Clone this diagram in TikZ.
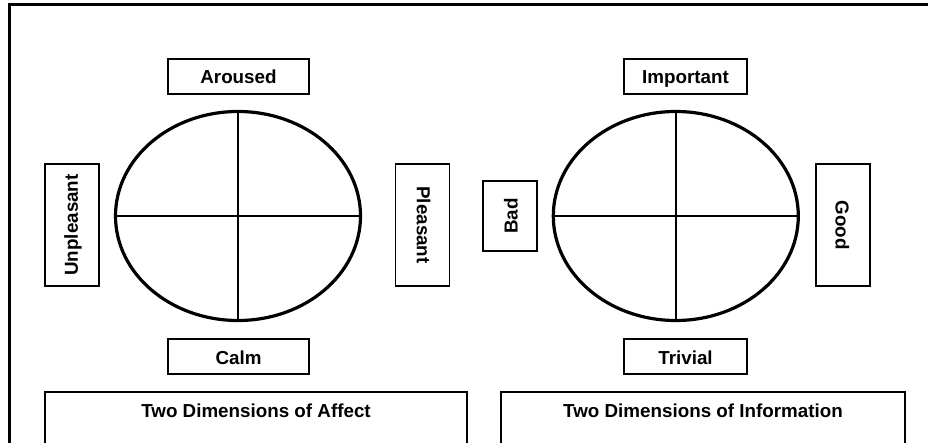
\documentclass[tikz,border=0pt]{standalone}
\usepackage{fontspec}
\setmainfont{Liberation Sans}
\usetikzlibrary{shapes.geometric}

\begin{document}
\begin{tikzpicture}[
    x=1pt, y=-1pt,
    box/.style={rectangle, draw=black, line width=1.3pt, inner sep=0pt},
    hbox/.style={box, minimum width=141pt, minimum height=35pt},
    vbox/.style={box, minimum width=122pt, minimum height=54pt},
    label_node/.style={font=\fontsize{18.8}{22}\selectfont\bfseries, text height=15pt, text depth=0pt},
    circ/.style={ellipse, draw=black, line width=3.2pt, minimum width=245pt, minimum height=209pt, inner sep=0pt},
    axis_line/.style={line width=2pt}
]

  % --- Page and outer frame ---
  \useasboundingbox (0,0) rectangle (928,443);
  \draw[line width=3pt] (9.5,4.2) rectangle (945,470);

  % --- Left panel: Affect ---
  \node[circ] (affect_circ) at (238,216) {};
  \draw[axis_line] (affect_circ.north) -- (affect_circ.south);
  \draw[axis_line] (affect_circ.west) -- (affect_circ.east);
  \node[hbox, label_node] (aroused) at (238.5,76.5) {Aroused};
  \node[hbox, label_node] (calm) at (238.5,356.5) {Calm};
  \node[vbox, label_node, text depth=3.5pt, rotate=90] (unpleasant) at (72,225) {Unpleasant};
  \node[vbox, label_node, text depth=3.5pt, rotate=-90] (pleasant) at (422.5,225) {Pleasant};

  % --- Right panel: Information ---
  \node[circ] (info_circ) at (675.8,216) {};
  \draw[axis_line] (info_circ.north) -- (info_circ.south);
  \draw[axis_line] (info_circ.west) -- (info_circ.east);
  \node[hbox, label_node, minimum width=123pt] (important) at (685.5,76.5) {Important};
  \node[hbox, label_node, minimum width=123pt] (trivial) at (685.5,356.5) {Trivial};
  \node[vbox, label_node, rotate=90, minimum width=70pt] (bad) at (510,216) {Bad};
  \node[vbox, label_node, rotate=-90] (good) at (843,225) {Good};

  % --- Captions ---
  \draw[line width=1.3pt] (45,392) rectangle (467,470);
  \node[label_node] (affect_title) at (256,409.5) {Two Dimensions of Affect};
  \draw[line width=1.3pt] (501,392) rectangle (905,470);
  \node[label_node] (info_title) at (703,409.5) {Two Dimensions of Information};

\end{tikzpicture}
\end{document}
